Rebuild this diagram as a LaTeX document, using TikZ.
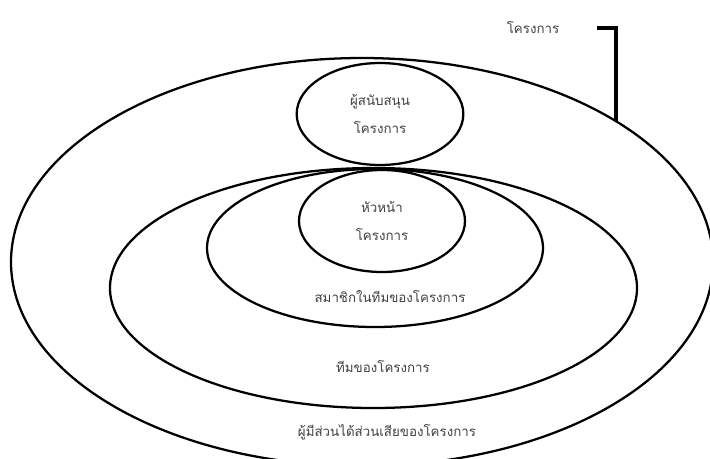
\documentclass[tikz,border=0pt]{standalone}
\usepackage{fontspec}
\usepackage{tikz}
\usetikzlibrary{shapes.geometric}
\newfontfamily\thaifont[Script=Thai]{Loma}

\tikzset{
  ring/.style={ellipse,draw,line width=1.7pt,inner sep=0pt,outer sep=0pt},
  lbl/.style={text=black!75,align=center,font=\thaifont\fontsize{10}{21}\selectfont}
}

\begin{document}
\begin{tikzpicture}[x=0.75pt,y=-0.75pt]
\useasboundingbox (0,0) rectangle (710,458);
% outer rings
\node[ring,minimum width=526.5pt,minimum height=306pt] (outer) at (362,262) {};
\node[ring,minimum width=395.25pt,minimum height=180pt] (team) at (373.5,288) {};
\node[ring,minimum width=252pt,minimum height=118.5pt] (members) at (375,248) {};
% inner ovals
\node[ring,lbl,minimum width=124.5pt,minimum height=76.5pt] (leader) at (382,221) {หัวหน้า\\โครงการ};
\node[ring,lbl,minimum width=125pt,minimum height=76.5pt] (sponsor) at (380,114) {ผู้สนับสนุน\\โครงการ};
% ring labels
\node[lbl] (memberstxt) at (390,297) {สมาชิกในทีมของโครงการ};
\node[lbl] (teamtxt) at (383,367) {ทีมของโครงการ};
\node[lbl] (outertxt) at (387,432) {ผู้มีส่วนได้ส่วนเสียของโครงการ};
\node[lbl] (projtxt) at (533,28) {โครงการ};
% bracket
\coordinate (brk) at (597,28);
\draw[line width=3pt] (brk) -| (outer.29.7);
\end{tikzpicture}
\end{document}
